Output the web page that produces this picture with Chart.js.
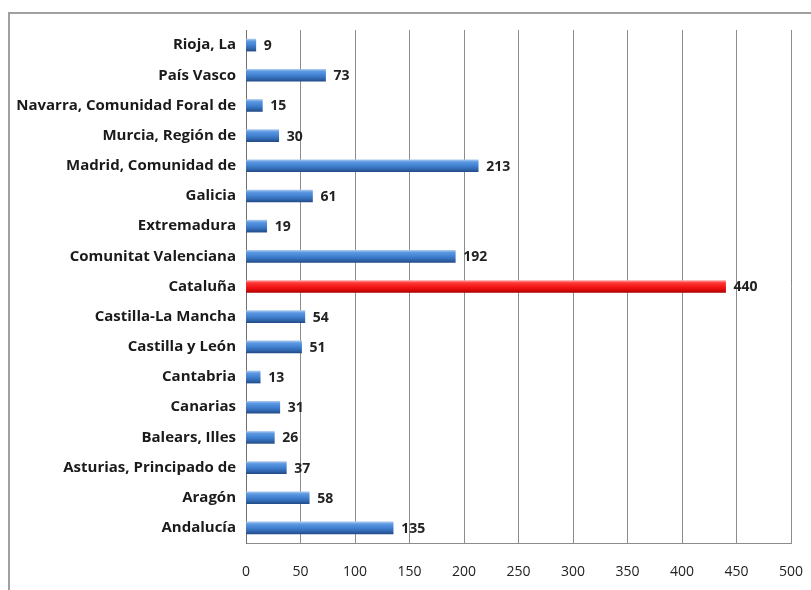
<!DOCTYPE html>
<html>
<head>
<meta charset="utf-8">
<script src="https://cdn.jsdelivr.net/npm/chart.js@4"></script>
<style>
  html, body { margin: 0; padding: 0; background: #fff; }
  #frame { position: absolute; left: 8px; top: 12px; width: 820px; height: 600px;
           border-left: 2px solid #a0a0a0; border-top: 2px solid #a0a0a0; }
  #wrap { position: absolute; left: 0; top: 0; width: 811px; height: 590px; }
</style>
</head>
<body>
<div id="frame"></div>
<div id="wrap"><canvas id="graphique" width="811" height="590"></canvas></div>
<script>
const regiones = ["Rioja, La","País Vasco","Navarra, Comunidad Foral de","Murcia, Región de",
    "Madrid, Comunidad de","Galicia","Extremadura","Comunitat Valenciana","Cataluña",
    "Castilla-La Mancha","Castilla y León","Cantabria","Canarias","Balears, Illes",
    "Asturias, Principado de","Aragón","Andalucía"]
const valores = [9,73,15,30,213,61,19,192,440,54,51,13,31,26,37,58,135]
const destacado = "Cataluña"
const ticksX = [0,50,100,150,200,250,300,350,400,450,500]

const fuente = "'Open Sans', 'DejaVu Sans', sans-serif"

// degradado tipo cilindro sobre el grosor de la barra
function relleno(ctx){
    const chart = ctx.chart
    const rojo = regiones[ctx.dataIndex] == destacado
    if (!chart.chartArea) return rojo ? '#f01818' : '#3f7fd0'
    const y = chart.scales.y.getPixelForValue(ctx.dataIndex)
    const g = chart.ctx.createLinearGradient(0, y - 6, 0, y + 6)
    if (rojo) {
        g.addColorStop(0, '#ffa0a0')
        g.addColorStop(0.2, '#ff3535')
        g.addColorStop(0.6, '#f01212')
        g.addColorStop(0.85, '#d00808')
        g.addColorStop(1, '#a80000')
    } else {
        g.addColorStop(0, '#a8c8ee')
        g.addColorStop(0.18, '#5c98e2')
        g.addColorStop(0.5, '#4282d2')
        g.addColorStop(0.82, '#2f63aa')
        g.addColorStop(1, '#234c88')
    }
    return g
}

const etiquetas = {
    id: 'etiquetas',
    afterDatasetsDraw(chart){
        const ctx = chart.ctx
        const meta = chart.getDatasetMeta(0)
        ctx.save()
        ctx.font = "bold 14px " + fuente
        ctx.fillStyle = '#222'
        ctx.textAlign = 'left'
        ctx.textBaseline = 'middle'
        meta.data.forEach((bar, i) => {
            ctx.fillText(valores[i], bar.x + 8, bar.y + 1)
        })
        ctx.restore()
    }
}

const cvs = document.getElementById('graphique')
new Chart(cvs, {
    type: 'bar',
    data: {
        labels: regiones,
        datasets: [{
            data: valores,
            backgroundColor: relleno,
            borderWidth: 0,
            barThickness: 12
        }]
    },
    options: {
        indexAxis: 'y',
        responsive: false,
        animation: false,
        layout: { padding: { top: 30, right: 20, left: 0, bottom: 0 } },
        plugins: { legend: { display: false }, tooltip: { enabled: false } },
        scales: {
            x: {
                min: 0, max: 500,
                afterBuildTicks: (s) => { s.ticks = ticksX.map(v => ({ value: v })) },
                afterFit: (s) => { s.height = 47; s.paddingLeft = 0; s.paddingRight = 0 },
                grid: { color: '#8c8c8c', lineWidth: 1, drawTicks: false },
                border: { display: true, color: '#8c8c8c', width: 1 },
                ticks: { color: '#222', font: { family: fuente, size: 14 }, padding: 21 }
            },
            y: {
                afterFit: (s) => { s.width = 246 },
                grid: { display: false, drawTicks: false },
                border: { display: true, color: '#707070', width: 1 },
                ticks: { color: '#1a1a1a', font: { family: fuente, size: 15, weight: 'bold' }, padding: 10 }
            }
        }
    },
    plugins: [etiquetas]
})
</script>
</body>
</html>
